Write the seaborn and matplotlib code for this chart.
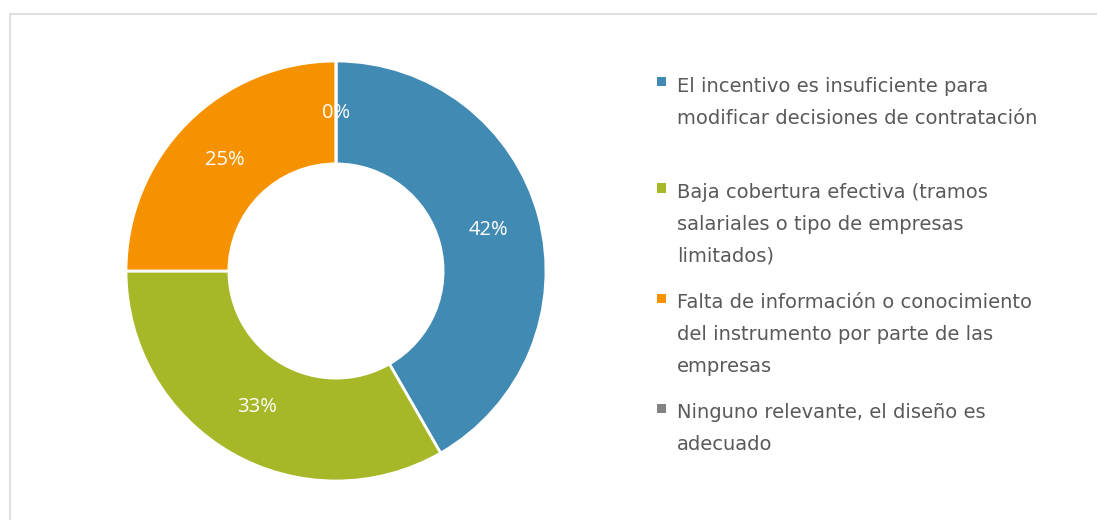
import matplotlib
matplotlib.use("Agg")
import matplotlib.pyplot as plt
from matplotlib.lines import Line2D
from matplotlib.patches import Rectangle
import seaborn as sns

# ---- data ----
categories = [
    "El incentivo es insuficiente para\nmodificar decisiones de contratación",
    "Baja cobertura efectiva (tramos\nsalariales o tipo de empresas\nlimitados)",
    "Falta de información o conocimiento\ndel instrumento por parte de las\nempresas",
    "Ninguno relevante, el diseño es\nadecuado",
]
shares = [41.7, 33.3, 25.0, 0.0]
colors = ["#418AB3", "#A6B727", "#F69200", "#838383"]

sns.set_theme(style="white")
plt.rcParams["font.family"] = ["Open Sans", "DejaVu Sans"]

W, H = 1097, 520
fig = plt.figure(figsize=(W / 100, H / 100), dpi=100)
fig.patch.set_facecolor("white")

# donut axes: centre (336, 271) px, outer radius 210 px
cx, cy, R = 336, 271, 210
ax = fig.add_axes([(cx - R) / W, (H - cy - R) / H, 2 * R / W, 2 * R / H])
palette = sns.color_palette(colors)
wedges, texts, autotexts = ax.pie(
    shares,
    colors=palette,
    startangle=90,
    counterclock=False,
    autopct="%.0f%%",
    pctdistance=0.75,
    wedgeprops=dict(width=0.49, edgecolor="white", linewidth=2),
    textprops=dict(color="white", fontsize=14.5),
)
ax.set_xlim(-1.0, 1.0)
ax.set_ylim(-1.0, 1.0)
ax.set_aspect("equal")
ax.axis("off")
for w in wedges:
    w.set_clip_on(False)

# legend (manual, Excel-like)
entry_baselines = [91.7, 198, 308, 418]
line_step = 32
text_x = 677
for lab, col, yb in zip(categories, palette, entry_baselines):
    lines = lab.split("\n")
    for i, ln in enumerate(lines):
        fig.text(text_x / W, 1 - (yb + i * line_step) / H, ln,
                 ha="left", va="baseline", color="#595959",
                 fontsize=14, family=["DejaVu Sans"])
    sq = 9
    fig.add_artist(Rectangle((657 / W, 1 - (yb - 10 + sq / 2) / H), sq / W, sq / H,
                             transform=fig.transFigure, facecolor=col,
                             edgecolor="none"))

# light grey chart frame (top and left visible)
fig.add_artist(Line2D([9.5 / W, 1.0], [1 - 13.5 / H, 1 - 13.5 / H],
                      transform=fig.transFigure, color="#D9D9D9", lw=1.2))
fig.add_artist(Line2D([9.5 / W, 9.5 / W], [0.0, 1 - 13.5 / H],
                      transform=fig.transFigure, color="#D9D9D9", lw=1.2))

fig.savefig("out.png", dpi=100, facecolor="white")
